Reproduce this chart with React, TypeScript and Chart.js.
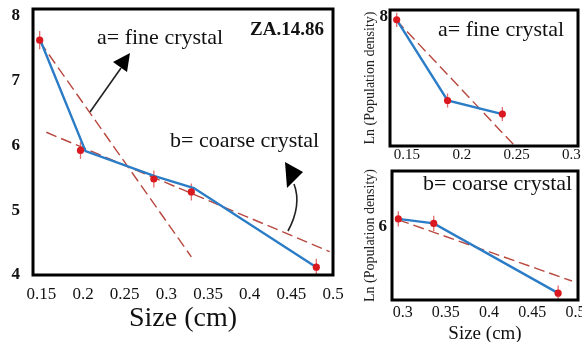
import React, { useEffect, useRef } from "react";
import { Chart, registerables } from "chart.js";
Chart.register(...registerables);

// ---------- main chart data ----------
const mainSizes = [0.148, 0.197, 0.285, 0.33, 0.48];
const mainLnDensity = [7.62, 5.92, 5.48, 5.28, 4.12];
const mainErr = [0.14, 0.13, 0.13, 0.13, 0.13];
const mainTrendSizes = [0.15, 0.203, 0.287, 0.333, 0.48];
const mainTrendLn = [7.58, 5.91, 5.52, 5.34, 4.12];
const fineFitSizes = [0.148, 0.33];
const fineFitLn = [7.6, 4.28];
const coarseFitSizes = [0.156, 0.496];
const coarseFitLn = [6.2, 4.36];
const mainXTicks = [0.15, 0.2, 0.25, 0.3, 0.35, 0.4, 0.45, 0.5];
const mainYTicks = [4, 5, 6, 7, 8];

// ---------- fine crystal inset ----------
const fineSizes = [0.1406, 0.187, 0.237];
const fineLn = [7.94, 6.22, 5.93];
const fineErr = [0.15, 0.15, 0.15];
const fineInsetFitSizes = [0.14, 0.2476];
const fineInsetFitLn = [7.94, 5.27];
const fineXTicks = [0.15, 0.2, 0.25, 0.3];
const fineYTicks = [8];

// ---------- coarse crystal inset ----------
const coarseSizes = [0.295, 0.336, 0.48];
const coarseLn = [6.18, 6.08, 4.53];
const coarseErr = [0.17, 0.17, 0.17];
const coarseInsetFitSizes = [0.295, 0.496];
const coarseInsetFitLn = [6.16, 4.8];
const coarseXTicks = [0.3, 0.35, 0.4, 0.45, 0.5];
const coarseYTicks = [6];

const SERIF = "'Liberation Serif', 'Times New Roman', serif";
const RED = "#d9191f";
const ERR = "#e26b6b";
const BLUE = "#2b7cc6";
const DASH = "#b8483f";

const pts = (xs: number[], ys: number[]) => xs.map((x, i) => ({ x, y: ys[i] }));
const fmt = (v: any) => String(+Number(v).toFixed(2));

type Txt = { text: string; x: number; y: number; size: number; bold?: boolean };
type Arrow = { line: number[]; curve?: boolean; head: number[] };

interface PanelCfg {
  w: number; h: number; left: number; top: number;
  xs: number[]; ys: number[]; err: number[];
  tx: number[]; ty: number[];
  f1x: number[]; f1y: number[];
  f2x?: number[]; f2y?: number[];
  xMin: number; xMax: number; yMin: number; yMax: number;
  xTicks: number[]; yTicks: number[];
  pad: { top: number; right: number };
  yW: number; xH: number;
  xTickSize: number; xTickPad: number;
  yTickSize: number; yTickPad: number;
  xTitle?: string; xTitleSize?: number; xTitlePad?: number;
  yTitle?: string; yTitleSize?: number; yTitlePad?: number;
  texts: Txt[]; arrows: Arrow[];
}

function Panel({ c }: { c: PanelCfg }) {
  const ref = useRef<HTMLCanvasElement>(null);
  useEffect(() => {
    if (!ref.current) return;
    const decor = {
      id: "decor" + c.left + c.top,
      beforeDatasetsDraw(chart: any) {
        const { ctx, scales } = chart;
        ctx.save();
        ctx.strokeStyle = ERR;
        ctx.lineWidth = 1.3;
        c.xs.forEach((x, i) => {
          const px = scales.x.getPixelForValue(x);
          ctx.beginPath();
          ctx.moveTo(px, scales.y.getPixelForValue(c.ys[i] + c.err[i]));
          ctx.lineTo(px, scales.y.getPixelForValue(c.ys[i] - c.err[i]));
          ctx.stroke();
        });
        ctx.restore();
      },
      afterDraw(chart: any) {
        const { ctx, chartArea: a } = chart;
        ctx.save();
        ctx.strokeStyle = "#000";
        ctx.lineWidth = 3;
        ctx.strokeRect(a.left, a.top, a.right - a.left, a.bottom - a.top);
        ctx.fillStyle = "#111";
        ctx.textBaseline = "middle";
        ctx.textAlign = "left";
        c.texts.forEach((t) => {
          ctx.font = `${t.bold ? "bold " : ""}${t.size}px ${SERIF}`;
          ctx.fillText(t.text, t.x, t.y);
        });
        ctx.strokeStyle = "#222";
        ctx.fillStyle = "#000";
        ctx.lineWidth = 1.6;
        c.arrows.forEach((ar) => {
          const l = ar.line;
          ctx.beginPath();
          ctx.moveTo(l[0], l[1]);
          if (ar.curve) ctx.quadraticCurveTo(l[2], l[3], l[4], l[5]);
          else ctx.lineTo(l[2], l[3]);
          ctx.stroke();
          const h = ar.head;
          ctx.beginPath();
          ctx.moveTo(h[0], h[1]);
          ctx.lineTo(h[2], h[3]);
          ctx.lineTo(h[4], h[5]);
          ctx.closePath();
          ctx.fill();
        });
        ctx.restore();
      },
    };
    const datasets: any[] = [
      {
        data: pts(c.xs, c.ys), showLine: false, pointRadius: 3.6,
        pointBackgroundColor: RED, pointBorderColor: RED, pointBorderWidth: 0,
      },
      {
        data: pts(c.tx, c.ty), showLine: true, borderColor: BLUE, borderWidth: 2.4,
        pointRadius: 0, tension: 0,
      },
      {
        data: pts(c.f1x, c.f1y), showLine: true, borderColor: DASH, borderWidth: 1.4,
        borderDash: [11, 5], pointRadius: 0,
      },
    ];
    if (c.f2x && c.f2y) {
      datasets.push({
        data: pts(c.f2x, c.f2y), showLine: true, borderColor: DASH, borderWidth: 1.4,
        borderDash: [11, 5], pointRadius: 0,
      });
    }
    const zeroPad = (s: any) => {
      s.paddingLeft = 0; s.paddingRight = 0; s.paddingTop = 0; s.paddingBottom = 0;
    };
    const chart = new Chart(ref.current, {
      type: "scatter",
      data: { datasets },
      options: {
        responsive: false,
        animation: false,
        events: [],
        layout: { padding: { top: c.pad.top, right: c.pad.right, left: 0, bottom: 0 } },
        plugins: { legend: { display: false }, tooltip: { enabled: false } },
        scales: {
          x: {
            type: "linear", min: c.xMin, max: c.xMax,
            afterBuildTicks: (s: any) => { s.ticks = c.xTicks.map((v) => ({ value: v })); },
            afterFit: (s: any) => { s.height = c.xH; zeroPad(s); },
            grid: { display: false, drawTicks: false },
            border: { display: false },
            ticks: {
              autoSkip: false, maxRotation: 0, padding: c.xTickPad, color: "#111",
              font: { family: SERIF, size: c.xTickSize }, callback: (v: any) => fmt(v),
            },
            title: {
              display: !!c.xTitle, text: c.xTitle || "", color: "#111",
              font: { family: SERIF, size: c.xTitleSize || 16 },
              padding: { top: 0, bottom: c.xTitlePad || 0 },
            },
          },
          y: {
            type: "linear", min: c.yMin, max: c.yMax,
            afterBuildTicks: (s: any) => { s.ticks = c.yTicks.map((v) => ({ value: v })); },
            afterFit: (s: any) => { s.width = c.yW; zeroPad(s); },
            grid: { display: false, drawTicks: false },
            border: { display: false },
            ticks: {
              autoSkip: false, padding: c.yTickPad, color: "#111",
              font: { family: SERIF, size: c.yTickSize, weight: "bold" }, callback: (v: any) => fmt(v),
            },
            title: {
              display: !!c.yTitle, text: c.yTitle || "", color: "#222",
              font: { family: SERIF, size: c.yTitleSize || 14 },
              padding: { top: c.yTitlePad || 0, bottom: 0 },
            },
          },
        },
      } as any,
      plugins: [decor as any],
    });
    return () => chart.destroy();
  }, []);
  return (
    <canvas
      ref={ref}
      width={c.w}
      height={c.h}
      style={{ position: "absolute", left: c.left, top: c.top, width: c.w, height: c.h }}
    />
  );
}

const mainCfg: PanelCfg = {
  w: 345, h: 342, left: 0, top: 0,
  xs: mainSizes, ys: mainLnDensity, err: mainErr,
  tx: mainTrendSizes, ty: mainTrendLn,
  f1x: fineFitSizes, f1y: fineFitLn, f2x: coarseFitSizes, f2y: coarseFitLn,
  xMin: 0.14, xMax: 0.5, yMin: 4, yMax: 8.1,
  xTicks: mainXTicks, yTicks: mainYTicks,
  pad: { top: 9, right: 12 }, yW: 33, xH: 67,
  xTickSize: 17, xTickPad: 9, yTickSize: 17, yTickPad: 13,
  xTitle: "Size (cm)", xTitleSize: 28, xTitlePad: 7,
  texts: [
    { text: "a= fine crystal", x: 97, y: 38, size: 22 },
    { text: "ZA.14.86", x: 250, y: 30, size: 19, bold: true },
    { text: "b= coarse crystal", x: 170, y: 141, size: 22 },
  ],
  arrows: [
    { line: [90, 112, 121, 68], head: [113, 62, 130, 53, 127, 72] },
    { line: [288, 231, 302, 205, 294, 184], curve: true, head: [285, 162, 303, 172, 287, 188] },
  ],
};

const fineCfg: PanelCfg = {
  w: 227, h: 165, left: 355, top: 0,
  xs: fineSizes, ys: fineLn, err: fineErr,
  tx: fineSizes, ty: fineLn,
  f1x: fineInsetFitSizes, f1y: fineInsetFitLn,
  xMin: 0.1345, xMax: 0.306, yMin: 5.25, yMax: 8.15,
  xTicks: fineXTicks, yTicks: fineYTicks,
  pad: { top: 10, right: 4 }, yW: 35, xH: 19,
  xTickSize: 15, xTickPad: 0, yTickSize: 17, yTickPad: 2,
  yTitle: "Ln (Population density)", yTitleSize: 14, yTitlePad: 7,
  texts: [{ text: "a= fine crystal", x: 83, y: 30, size: 22 }],
  arrows: [],
};

const coarseCfg: PanelCfg = {
  w: 227, h: 180, left: 355, top: 165,
  xs: coarseSizes, ys: coarseLn, err: coarseErr,
  tx: coarseSizes, ty: coarseLn,
  f1x: coarseInsetFitSizes, f1y: coarseInsetFitLn,
  xMin: 0.2877, xMax: 0.503, yMin: 4.378, yMax: 7.244,
  xTicks: coarseXTicks, yTicks: coarseYTicks,
  pad: { top: 6, right: 4 }, yW: 37, xH: 45,
  xTickSize: 16, xTickPad: 3, yTickSize: 17, yTickPad: 5,
  xTitle: "Size (cm)", xTitleSize: 19, xTitlePad: 0,
  yTitle: "Ln (Population density)", yTitleSize: 14, yTitlePad: 7,
  texts: [{ text: "b= coarse crystal", x: 68, y: 19, size: 22 }],
  arrows: [],
};

export default function App() {
  return (
    <div
      style={{
        position: "absolute", left: 0, top: 0, width: 582, height: 342,
        overflow: "hidden", background: "#fff",
      }}
    >
      <Panel c={mainCfg} />
      <Panel c={fineCfg} />
      <Panel c={coarseCfg} />
    </div>
  );
}
